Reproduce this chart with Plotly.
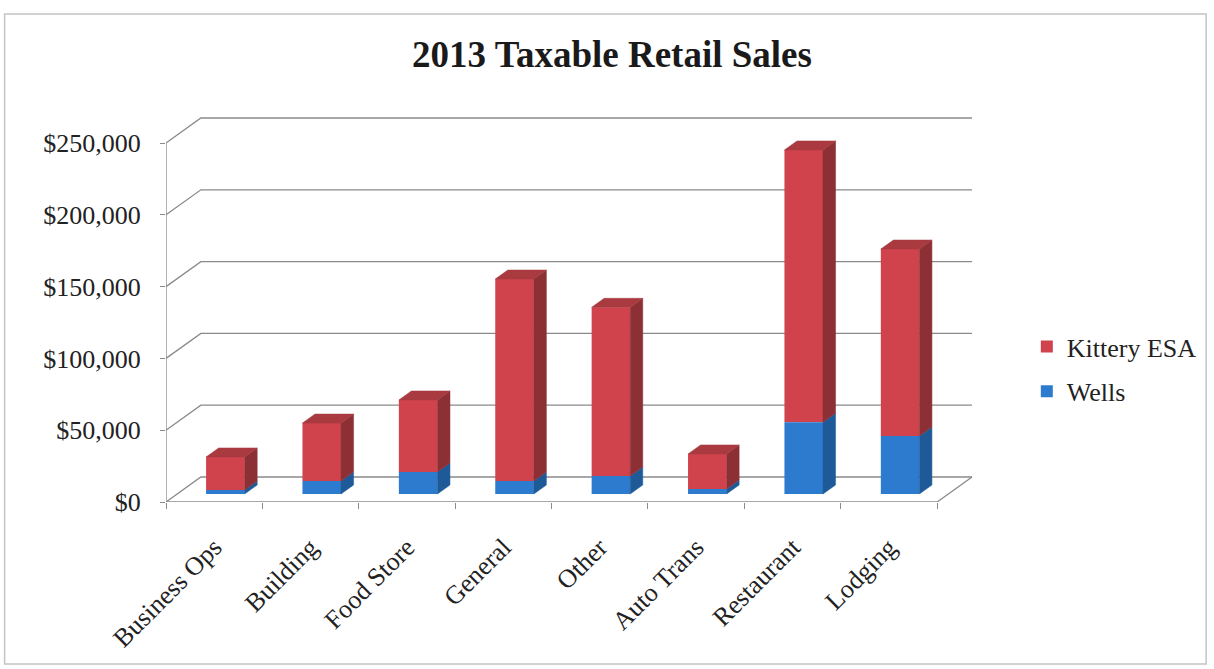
import plotly.graph_objects as go

# ---- data -------------------------------------------------------------
categories = ["Business Ops", "Building", "Food Store", "General",
              "Other", "Auto Trans", "Restaurant", "Lodging"]
wells = [2800, 9000, 15300, 9000, 12500, 3500, 50000, 40400]
kittery_esa = [23000, 40400, 50200, 140700, 117500, 24400, 189600, 130200]
y_ticks = [0, 50000, 100000, 150000, 200000, 250000]

# ---- page geometry ----------------------------------------------------
W, H = 1214, 669
ML, MR, MT, MB = 166, 234, 110, 167
PLOT_W, PLOT_H = W - ML - MR, H - MT - MB
PX_PER_CAT = 96.75
PX_PER_USD = 359 / 250000
X_RANGE = [-0.5, -0.5 + PLOT_W / PX_PER_CAT]
Y_RANGE = [0, PLOT_H / PX_PER_USD]

# oblique projection of the depth axis (in data units)
DEPTH_X = 35 / PX_PER_CAT
DEPTH_Y = 25 / PX_PER_USD
FRONT, BACK = 0.32, 0.68          # bar front/back planes along depth
BAR_W = 0.4
N = len(categories)

RED, RED_SIDE, RED_TOP = "#D0434D", "#8C3036", "#A83A40"
BLUE, BLUE_SIDE = "#2C7BCF", "#1F5A98"
GRID = "#8a8a8a"
FONT = "Liberation Serif"


def px_x(px):
    return (px - ML) / PLOT_W


def px_y(py):
    return (H - MB - py) / PLOT_H


def depth(x, y, d):
    return x + d * DEPTH_X, y + d * DEPTH_Y


fig = go.Figure()

# front faces of the stacked columns
bar_x = [i + FRONT * DEPTH_X for i in range(N)]
base_w = [FRONT * DEPTH_Y] * N
base_k = [w + FRONT * DEPTH_Y for w in wells]
fig.add_trace(go.Bar(x=bar_x, y=kittery_esa, base=base_k, width=BAR_W,
                     name="Kittery ESA", marker=dict(color=RED, line_width=0),
                     legendgroup="k", hoverinfo="skip"))
fig.add_trace(go.Bar(x=bar_x, y=wells, base=base_w, width=BAR_W,
                     name="Wells", marker=dict(color=BLUE, line_width=0),
                     legendgroup="w", hoverinfo="skip"))


def poly(xs, ys, color):
    fig.add_trace(go.Scatter(x=xs + [xs[0]], y=ys + [ys[0]], mode="lines",
                             fill="toself", fillcolor=color,
                             line=dict(width=0.5, color=color),
                             showlegend=False, hoverinfo="skip"))


# side and top faces
for i in range(N):
    xr = i + BAR_W / 2
    xl = i - BAR_W / 2
    segs = [(0, wells[i], BLUE_SIDE),
            (wells[i], wells[i] + kittery_esa[i], RED_SIDE)]
    for y0, y1, col in segs:
        pts = [depth(xr, y0, FRONT), depth(xr, y0, BACK),
               depth(xr, y1, BACK), depth(xr, y1, FRONT)]
        poly([p[0] for p in pts], [p[1] for p in pts], col)
    top = wells[i] + kittery_esa[i]
    pts = [depth(xl, top, FRONT), depth(xr, top, FRONT),
           depth(xr, top, BACK), depth(xl, top, BACK)]
    poly([p[0] for p in pts], [p[1] for p in pts], RED_TOP)

# tick-mark carrier for the category boundaries
fig.add_trace(go.Scatter(x=[0], y=[0], xaxis="x2", mode="markers",
                         marker=dict(opacity=0), showlegend=False,
                         hoverinfo="skip"))

# walls, floor and gridlines
shapes = []
x0, x1 = -0.5, N - 0.5
for v in y_ticks:
    bx0, by = depth(x0, v, 1)
    bx1, _ = depth(x1, v, 1)
    shapes.append(dict(type="path", xref="x", yref="y", layer="below",
                       path=f"M {x0},{v} L {bx0},{by} L {bx1},{by}",
                       line=dict(color=GRID, width=1.3)))
fx, fy = depth(x1, 0, 1)
shapes.append(dict(type="path", xref="x", yref="y", layer="below",
                   path=f"M {x0},0 L {x1},0 L {fx},{fy}",
                   line=dict(color=GRID, width=1.3)))
shapes.append(dict(type="line", xref="x", yref="y", layer="below",
                   x0=x0, x1=x0, y0=0, y1=y_ticks[-1],
                   line=dict(color=GRID, width=1.3)))
# outer chart frame
shapes.append(dict(type="rect", xref="paper", yref="paper",
                   x0=px_x(4), x1=px_x(1210), y0=px_y(664), y1=px_y(14),
                   line=dict(color="#c4c4c4", width=1.5)))

fig.update_layout(
    width=W, height=H,
    margin=dict(l=ML, r=MR, t=MT, b=MB, pad=0),
    paper_bgcolor="white", plot_bgcolor="white",
    barmode="overlay",
    font=dict(family=FONT, size=26, color="#222222"),
    title=dict(text="<b>2013 Taxable Retail Sales</b>",
               x=612 / W, xanchor="center", xref="container",
               y=1 - 54 / H, yanchor="middle",
               font=dict(family=FONT, size=37, color="#1a1a1a")),
    xaxis=dict(range=X_RANGE, tickvals=list(range(N)), ticktext=categories,
               tickangle=-45, ticks="", showgrid=False, zeroline=False,
               showline=False, tickfont=dict(size=26),
               ticklabelstandoff=24, fixedrange=True),
    xaxis2=dict(range=X_RANGE, overlaying="x", anchor="y", side="bottom",
                tickvals=[i - 0.5 for i in range(N + 1)], ticks="outside",
                ticklen=6, tickcolor=GRID, tickwidth=1.3,
                showticklabels=False, showgrid=False, zeroline=False,
                showline=False),
    yaxis=dict(range=Y_RANGE, tickvals=y_ticks, tickformat="$,.0f",
               ticks="outside", ticklen=5, tickcolor=GRID, tickwidth=1.3,
               showgrid=False, zeroline=False, showline=False,
               tickfont=dict(size=26), ticklabelstandoff=14),
    legend=dict(x=px_x(1030), y=px_y(323), xanchor="left", yanchor="top",
                font=dict(size=26), tracegroupgap=8,
                bgcolor="rgba(0,0,0,0)"),
    shapes=shapes,
)

fig.write_html("out.html")
